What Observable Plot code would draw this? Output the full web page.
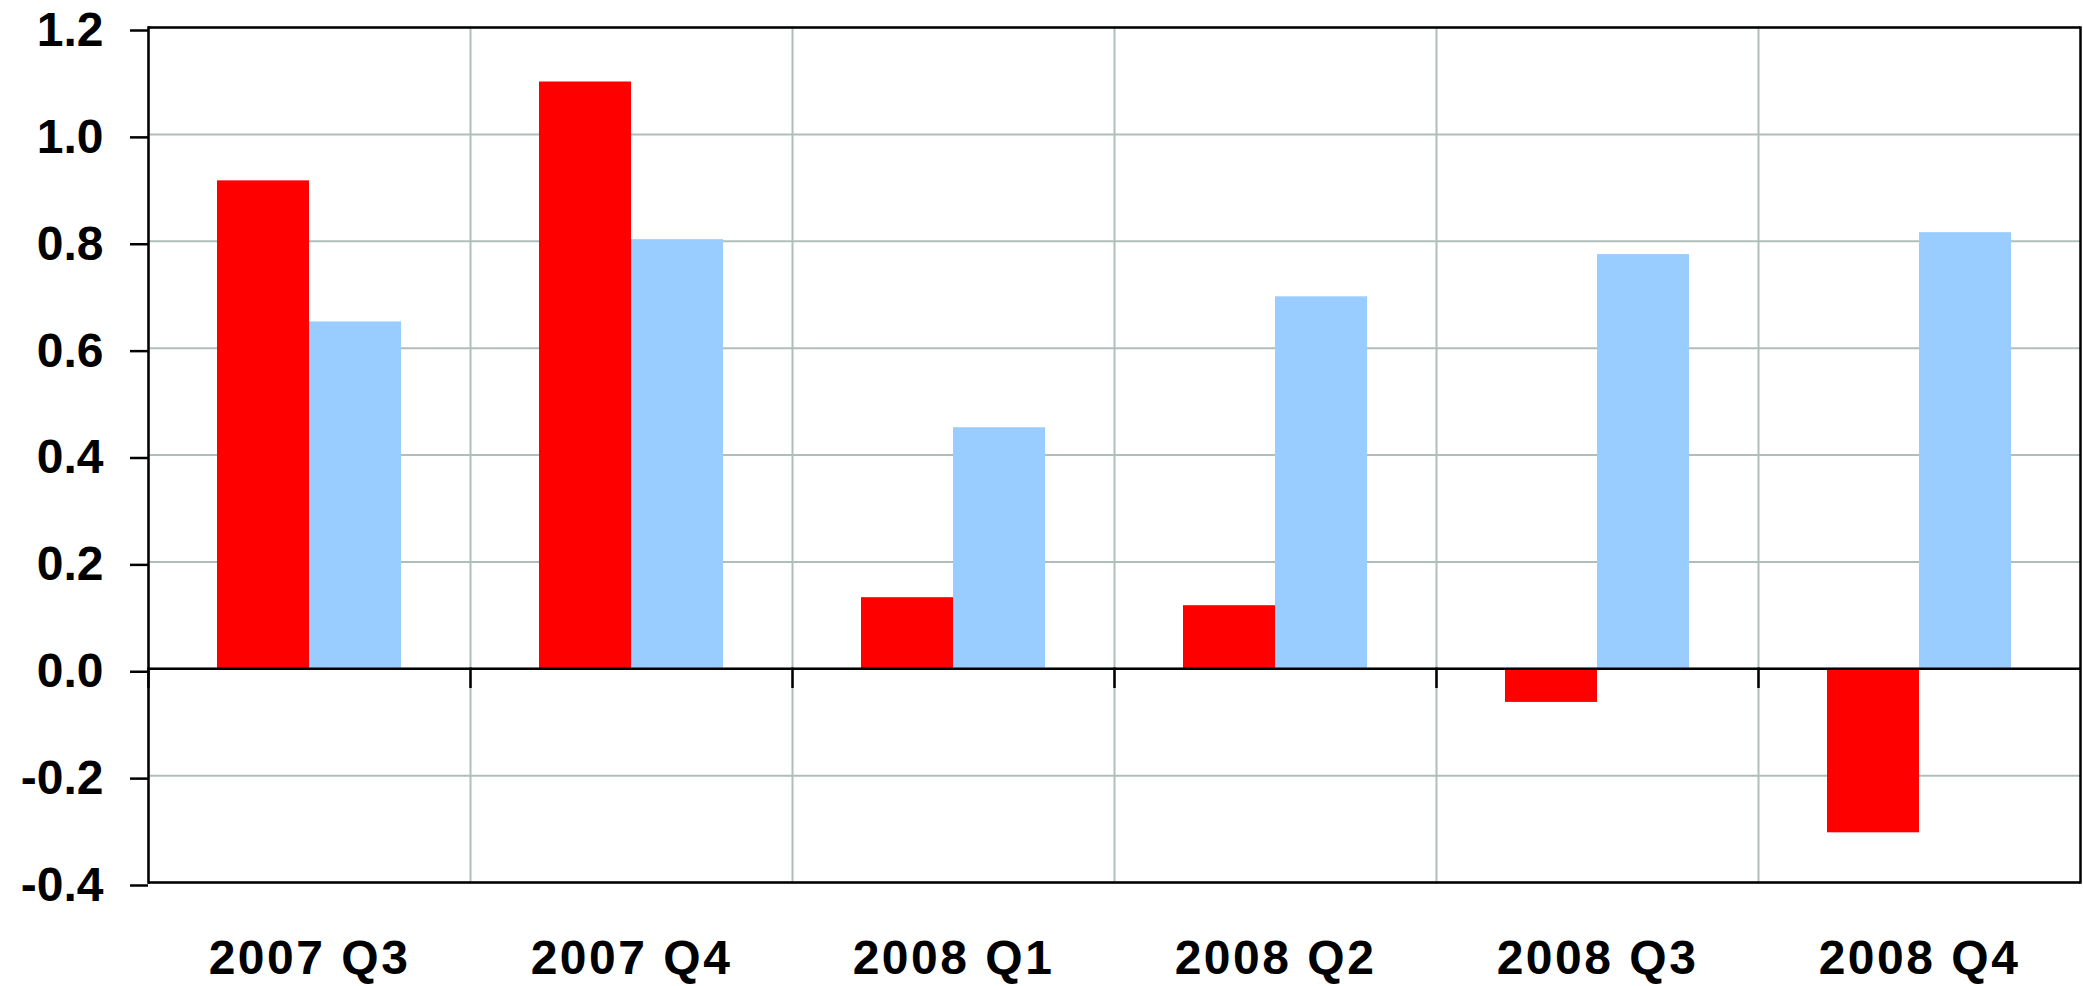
<!DOCTYPE html>
<html>
<head>
<meta charset="utf-8">
<script src="https://cdn.jsdelivr.net/npm/d3@7"></script>
<script src="https://cdn.jsdelivr.net/npm/@observablehq/plot@0.6"></script>
<style>
  html, body { margin: 0; padding: 0; background: #ffffff; }
  #chart { width: 2083px; height: 986px; }
  g[aria-label="fx-axis tick label"] text { letter-spacing: 2.5px; }
</style>
</head>
<body>
<div id="chart"></div>
<script>
// ---- data ----
const quarters = ["2007 Q3", "2007 Q4", "2008 Q1", "2008 Q2", "2008 Q3", "2008 Q4"];
const seriesNames = ["Series A", "Series B"];
const seriesA = [0.913, 1.098, 0.133, 0.118, -0.063, -0.307];
const seriesB = [0.649, 0.803, 0.451, 0.696, 0.775, 0.816];
const yTicks = [-0.4, -0.2, 0.0, 0.2, 0.4, 0.6, 0.8, 1.0, 1.2];
const seriesColors = ["#ff0000", "#99ccff"];

// ---- table ----
const table = [];
quarters.forEach((q, i) => {
  table.push({quarter: q, series: seriesNames[0], value: seriesA[i]});
  table.push({quarter: q, series: seriesNames[1], value: seriesB[i]});
});

// ---- layout ----
const W = 2083, H = 986;
const mTop = 27, mBottom = 104, mLeft = 147, mRight = 3;
const yDomain = [yTicks[0], yTicks[yTicks.length - 1]];
const plotH = H - mTop - mBottom;
const zeroPx = plotH * (yDomain[1] - 0) / (yDomain[1] - yDomain[0]);
const tickLen = 18;
const gridColor = "#b0beb9";

const chart = Plot.plot({
  width: W,
  height: H,
  marginTop: mTop,
  marginBottom: mBottom,
  marginLeft: mLeft,
  marginRight: mRight,
  style: {fontFamily: "'Liberation Sans', Arial, sans-serif", fontWeight: "bold", color: "#000", background: "#fff"},
  fx: {domain: quarters, padding: 0, axis: null, label: null},
  x: {domain: seriesNames, paddingInner: 0, paddingOuter: 0.745, axis: null},
  y: {domain: yDomain, axis: null, label: null},
  color: {domain: seriesNames, range: seriesColors},
  marks: [
    Plot.gridY(yTicks, {stroke: gridColor, strokeOpacity: 1, strokeWidth: 2}),
    Plot.frame({anchor: "left", stroke: gridColor, strokeWidth: 2}),
    Plot.barY(table, {fx: "quarter", x: "series", y: "value", fill: "series"}),
    Plot.ruleY([0, yDomain[0], yDomain[1]], {stroke: "#000", strokeWidth: 2.5}),
    Plot.frame({anchor: "left", stroke: "#000", strokeWidth: 2.5, insetTop: zeroPx, insetBottom: plotH - zeroPx - tickLen}),
    Plot.frame({anchor: "left", stroke: "#000", strokeWidth: 2.5, facetAnchor: "left"}),
    Plot.frame({anchor: "right", stroke: "#000", strokeWidth: 2.5, facetAnchor: "right"}),
    Plot.axisY(yTicks, {
      anchor: "left",
      label: null,
      tickSize: tickLen,
      tickPadding: 27,
      strokeWidth: 2.5,
      fontSize: 48,
      fontWeight: "bold",
      dy: 3,
      tickFormat: d => d.toFixed(1)
    }),
    Plot.axisFx({
      anchor: "bottom",
      label: null,
      tickSize: 0,
      tickPadding: 57,
      fontSize: 48,
      fontWeight: "bold"
    })
  ]
});
document.getElementById("chart").appendChild(chart);
</script>
</body>
</html>
